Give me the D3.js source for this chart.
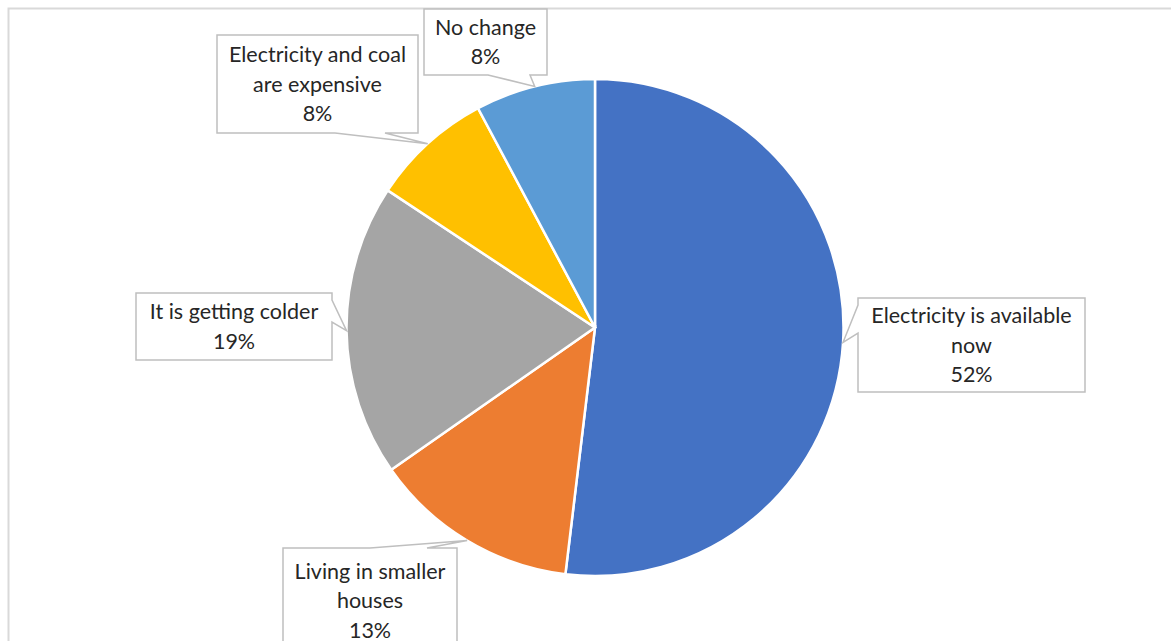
<!DOCTYPE html>
<html lang="en">
<head>
    <meta charset="UTF-8">
    <title>Pie chart</title>
    <style>
        body { margin: 0; background: #fff; }
        text { font-family: "Lato", "Noto Sans", sans-serif; fill: #262626; }
    </style>
</head>
<body>
    <div id="chart"></div>

    <script src="https://cdnjs.cloudflare.com/ajax/libs/d3/7.8.5/d3.min.js"></script>
    <script>
        // Data
        const categories = ["Electricity is available now", "Living in smaller houses", "It is getting colder", "Electricity and coal are expensive", "No change"];
        const values = [51.9, 13.4, 19.0, 7.9, 7.8];
        const labelLines = [
            ["Electricity is available", "now"],
            ["Living in smaller", "houses"],
            ["It is getting colder"],
            ["Electricity and coal", "are expensive"],
            ["No change"]
        ];
        const colors = ["#4472C4", "#ED7D31", "#A5A5A5", "#FFC000", "#5B9BD5"];

        // Callout boxes (layout): box rect, side of the wedge, wedge base along that side
        const callouts = [
            { x: 858, y: 298, w: 227, h: 94, side: "left", b0: 305, b1: 333 },
            { x: 283, y: 548, w: 174, h: 100, side: "top", b0: 370, b1: 427 },
            { x: 136, y: 293, w: 196, h: 67, side: "right", b0: 300, b1: 322 },
            { x: 217, y: 35, w: 201, h: 98, side: "bottom", b0: 335, b1: 385 },
            { x: 424, y: 9, w: 123, h: 66, side: "bottom", b0: 488, b1: 530 }
        ];

        const width = 1171, height = 641;
        const cx = 595, cy = 327.5, radius = 248.5;

        const svg = d3.select("#chart")
            .append("svg")
            .attr("width", width)
            .attr("height", height);

        // chart area border
        svg.append("rect")
            .attr("x", 8.5).attr("y", 8.5)
            .attr("width", width + 20).attr("height", height + 20)
            .attr("fill", "none")
            .attr("stroke", "#d9d9d9")
            .attr("stroke-width", 2);

        const pie = d3.pie().sort(null).value(d => d);
        const arcs = pie(values);
        const arc = d3.arc().innerRadius(0).outerRadius(radius);

        const g = svg.append("g").attr("transform", "translate(" + cx + "," + cy + ")");

        g.selectAll("path")
            .data(arcs)
            .enter()
            .append("path")
            .attr("d", arc)
            .attr("fill", (d, i) => colors[i])
            .attr("stroke", "#fff")
            .attr("stroke-width", 2.5);

        // callout shapes
        function calloutPath(c, tip) {
            const x0 = c.x, y0 = c.y, x1 = c.x + c.w, y1 = c.y + c.h;
            let pts;
            if (c.side === "left") {
                pts = [[x0, y0], [x1, y0], [x1, y1], [x0, y1], [x0, c.b1], tip, [x0, c.b0]];
            } else if (c.side === "right") {
                pts = [[x0, y0], [x1, y0], [x1, c.b0], tip, [x1, c.b1], [x1, y1], [x0, y1]];
            } else if (c.side === "top") {
                pts = [[x0, y0], [c.b0, y0], tip, [c.b1, y0], [x1, y0], [x1, y1], [x0, y1]];
            } else {
                pts = [[x0, y0], [x1, y0], [x1, y1], [c.b1, y1], tip, [c.b0, y1], [x0, y1]];
            }
            return d3.line()(pts) + "Z";
        }

        const labels = svg.append("g");
        arcs.forEach((a, i) => {
            const mid = (a.startAngle + a.endAngle) / 2;
            const tip = [cx + radius * Math.sin(mid), cy - radius * Math.cos(mid)];
            const c = callouts[i];
            labels.append("path")
                .attr("d", calloutPath(c, tip))
                .attr("fill", "#fff")
                .attr("stroke", "#bfbfbf")
                .attr("stroke-width", 1.5);

            const lines = labelLines[i].concat([d3.format(".0%")(a.value / 100)]);
            const lh = 29.5;
            const midY = c.y + c.h / 2;
            const top = i === 1 ? 571 : midY - (lines.length - 1) * lh / 2;
            const t = labels.append("text")
                .attr("text-anchor", "middle")
                .style("font-size", "21.5px");
            lines.forEach((ln, k) => {
                t.append("tspan")
                    .attr("x", c.x + c.w / 2)
                    .attr("y", top + k * lh)
                    .attr("dy", "0.35em")
                    .text(ln);
            });
        });
    </script>
</body>
</html>
